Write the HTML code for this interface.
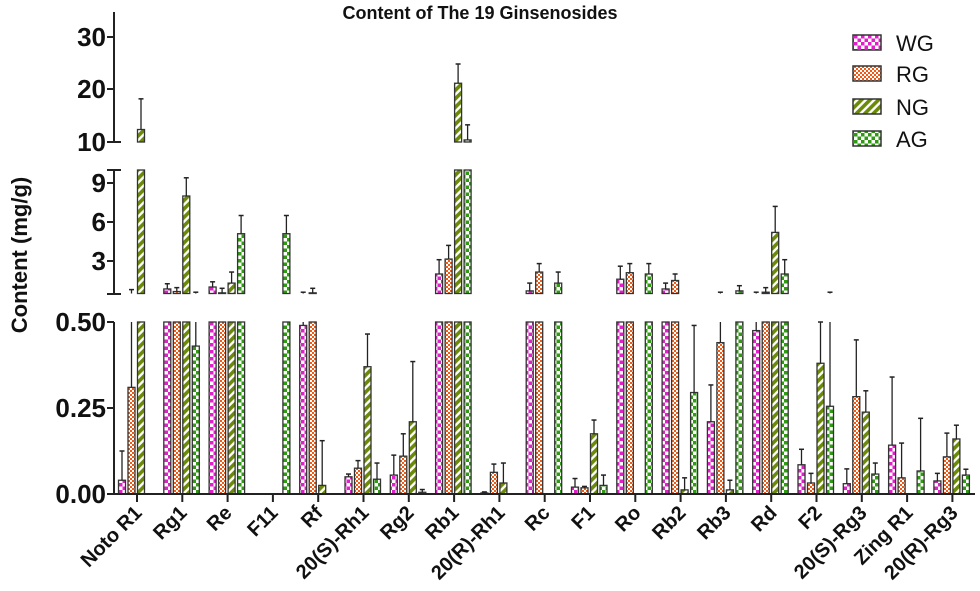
<!DOCTYPE html>
<html><head><meta charset="utf-8"><style>
html,body{margin:0;padding:0;background:#fff;}
svg{display:block;font-family:"Liberation Sans",Arial,sans-serif;}
</style></head><body>
<svg id="c" width="980" height="591" viewBox="0 0 980 591" xmlns="http://www.w3.org/2000/svg">
<defs>
<pattern id="pWG" width="7" height="7" patternUnits="userSpaceOnUse"><rect width="7" height="7" fill="#fff"/><rect x="0" y="0" width="3.5" height="3.5" fill="#e020c8"/><rect x="3.5" y="3.5" width="3.5" height="3.5" fill="#e020c8"/></pattern>
<pattern id="pRG" width="4" height="4" patternUnits="userSpaceOnUse"><rect width="4" height="4" fill="#fff"/><rect x="0" y="0" width="2" height="2" fill="#f05a14"/><rect x="2" y="2" width="2" height="2" fill="#f05a14"/></pattern>
<pattern id="pNG" width="6" height="6" patternUnits="userSpaceOnUse" patternTransform="rotate(45)"><rect width="6" height="6" fill="#fff"/><rect x="0" y="0" width="3.6" height="6" fill="#6b8a0a"/></pattern>
<pattern id="pAG" width="7" height="7" patternUnits="userSpaceOnUse"><rect width="7" height="7" fill="#fff"/><rect x="0" y="0" width="3.5" height="3.5" fill="#2f9a12"/><rect x="3.5" y="3.5" width="3.5" height="3.5" fill="#2f9a12"/></pattern>
</defs>
<g id="bars"></g>
<g stroke="#222" stroke-width="2" fill="none">
<line x1="114" y1="12" x2="114" y2="142"/>
<line x1="107" y1="37" x2="114" y2="37"/><line x1="107" y1="89" x2="114" y2="89"/><line x1="107" y1="142" x2="121" y2="142"/>
<line x1="114" y1="170" x2="114" y2="294"/>
<line x1="107" y1="170" x2="121" y2="170"/><line x1="107" y1="183" x2="114" y2="183"/><line x1="107" y1="222" x2="114" y2="222"/><line x1="107" y1="261" x2="114" y2="261"/><line x1="107" y1="294" x2="121" y2="294"/>
<line x1="114" y1="322" x2="114" y2="494"/>
<line x1="107" y1="322" x2="114" y2="322"/><line x1="107" y1="408" x2="114" y2="408"/><line x1="107" y1="494" x2="975" y2="494"/>
</g>
<g id="xt" stroke="#222" stroke-width="2"></g>
<g font-weight="bold" font-size="26" fill="#111" text-anchor="end">
<text x="106" y="46">30</text><text x="106" y="98">20</text><text x="106" y="151">10</text>
<text x="106" y="192">9</text><text x="106" y="231">6</text><text x="106" y="270">3</text>
<text x="106" y="331">0.50</text><text x="106" y="417">0.25</text><text x="106" y="503">0.00</text>
</g>
<text x="0" y="0" transform="translate(27,255) rotate(-90)" text-anchor="middle" font-weight="bold" font-size="22" fill="#111">Content (mg/g)</text>
<text x="480" y="19" text-anchor="middle" font-weight="bold" font-size="18" fill="#111">Content of The 19 Ginsenosides</text>
<g font-weight="bold" font-size="20" fill="#111" text-anchor="end">
<text transform="translate(143,514) rotate(-45)">Noto R1</text>
<text transform="translate(188,514) rotate(-45)">Rg1</text>
<text transform="translate(233,514) rotate(-45)">Re</text>
<text transform="translate(279,514) rotate(-45)">F11</text>
<text transform="translate(324,514) rotate(-45)">Rf</text>
<text transform="translate(370,514) rotate(-45)">20(S)-Rh1</text>
<text transform="translate(415,514) rotate(-45)">Rg2</text>
<text transform="translate(460,514) rotate(-45)">Rb1</text>
<text transform="translate(506,514) rotate(-45)">20(R)-Rh1</text>
<text transform="translate(551,514) rotate(-45)">Rc</text>
<text transform="translate(596,514) rotate(-45)">F1</text>
<text transform="translate(642,514) rotate(-45)">Ro</text>
<text transform="translate(687,514) rotate(-45)">Rb2</text>
<text transform="translate(732,514) rotate(-45)">Rb3</text>
<text transform="translate(778,514) rotate(-45)">Rd</text>
<text transform="translate(823,514) rotate(-45)">F2</text>
<text transform="translate(868,514) rotate(-45)">20(S)-Rg3</text>
<text transform="translate(914,514) rotate(-45)">Zing R1</text>
<text transform="translate(959,514) rotate(-45)">20(R)-Rg3</text>
</g>
<g stroke="#333" stroke-width="1.5">
<rect x="853" y="35" width="28" height="15" fill="url(#pWG)"/>
<rect x="853" y="66" width="28" height="15" fill="url(#pRG)"/>
<rect x="853" y="99" width="28" height="15" fill="url(#pNG)"/>
<rect x="853" y="131" width="28" height="15" fill="url(#pAG)"/>
</g>
<g font-size="22" fill="#111">
<text x="896" y="51">WG</text><text x="896" y="82">RG</text><text x="896" y="115">NG</text><text x="896" y="147">AG</text>
</g>
</svg>
<script>
var D=[
[[0.04,0.125],[0.31,0.8],[12.4,18.3],null],
[[0.85,1.25],[0.65,0.95],[8.0,9.4],[0.43,0.6]],
[[1.0,1.4],[0.55,0.9],[1.3,2.15],[5.1,6.5]],
[null,null,null,[5.1,6.5]],
[[0.49,0.6],[0.55,0.9],[0.025,0.155],null],
[[0.05,0.058],[0.075,0.097],[0.37,0.465],[0.043,0.09]],
[[0.055,0.113],[0.11,0.175],[0.21,0.385],[0.005,0.013]],
[[2.0,3.1],[3.15,4.2],[21.3,25],[10.4,13.3]],
[[0.003,0.006],[0.063,0.087],[0.032,0.09],null],
[[0.7,1.3],[2.15,2.8],null,[1.3,2.15]],
[[0.02,0.045],[0.018,0.022],[0.175,0.215],[0.025,0.055]],
[[1.6,2.6],[2.1,2.8],null,[2.0,2.8]],
[[0.85,1.3],[1.5,2.0],[0.012,0.047],[0.295,0.49]],
[[0.21,0.317],[0.44,0.6],[0.012,0.04],[0.7,1.1]],
[[0.475,0.6],[0.6,0.95],[5.2,7.2],[2.0,3.1]],
[[0.085,0.13],[0.032,0.06],[0.38,0.5],[0.255,0.6]],
[[0.03,0.073],[0.283,0.448],[0.238,0.3],[0.058,0.09]],
[[0.142,0.34],[0.047,0.148],null,[0.067,0.22]],
[[0.038,0.06],[0.108,0.177],[0.16,0.2],[0.055,0.072]]];
var P=["pWG","pRG","pNG","pAG"];
var segs=[[0,0.5,function(v){return 494-344*v}],[0.5,10,function(v){return 300-13*v}],[10,35,function(v){return 142-5.2*(v-10)}]];
var h="",t="";
for(var c=0;c<19;c++){var cx=137+c*45.3;
t+='<line x1="'+cx+'" y1="494" x2="'+cx+'" y2="502"/>';
for(var i=0;i<4;i++){var d=D[c][i];if(!d)continue;var v=d[0],e=d[1];
var x=cx-18.5+i*9.5,w=7,mx=x+w/2;
segs.forEach(function(s){var lo=s[0],hi=s[1],f=s[2];
if(v>lo){var top=f(Math.min(v,hi)),bot=f(lo);
h+='<rect x="'+x+'" y="'+top+'" width="'+w+'" height="'+Math.max(bot-top,0.5)+'" fill="url(#'+P[i]+')" stroke="#333" stroke-width="1.3"/>';}
var a=Math.max(v,lo),b=Math.min(e,hi);
if(b>a){h+='<line x1="'+mx+'" y1="'+f(a)+'" x2="'+mx+'" y2="'+f(b)+'" stroke="#222" stroke-width="1.3"/>';
if(e<=hi)h+='<line x1="'+(mx-2.5)+'" y1="'+f(e)+'" x2="'+(mx+2.5)+'" y2="'+f(e)+'" stroke="#222" stroke-width="1.5"/>';}
});}}
document.getElementById("bars").innerHTML=h;
document.getElementById("xt").innerHTML=t;
</script>
</body></html>
